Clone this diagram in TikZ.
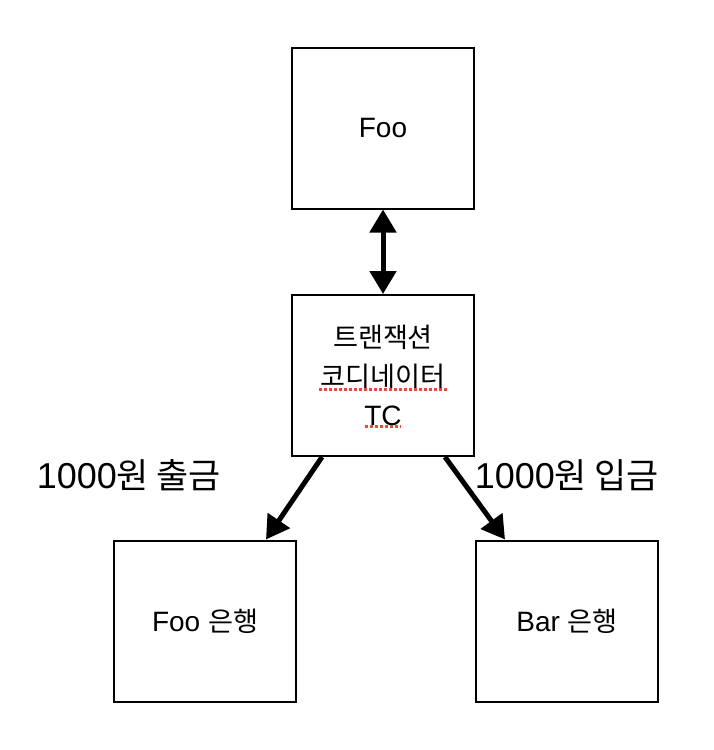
\documentclass[tikz,border=0pt]{standalone}
\usepackage{fontspec}
\setmainfont{Liberation Sans}
\newfontfamily\kr[Scale=0.97]{Noto Sans CJK KR}
\usetikzlibrary{arrows.meta,positioning}

\definecolor{spellred}{HTML}{E5483C}

\begin{document}
\begin{tikzpicture}[x=1pt,y=-1pt]
  \tikzstyle{every path}=[line width=2pt]

  \tikzstyle{sysbox}=[draw,minimum width=182pt,minimum height=161pt,align=center,font=\fontsize{28}{39}\selectfont]
  \tikzstyle{link}=[line width=5pt,-{Triangle[length=23pt,width=26pt]}]
  \tikzstyle{twoway}=[line width=5pt,{Triangle[length=23pt,width=26pt]}-{Triangle[length=23pt,width=26pt]}]
  \tikzstyle{amount}=[inner sep=0pt,font=\fontsize{36}{40}\selectfont]
  \tikzstyle{spellmark}=[spellred,line width=2.5pt,dash pattern=on 2.5pt off 2.5pt]

  \useasboundingbox (0,0) rectangle (714,750);

  \node [sysbox] (foo) at (383,128) {Foo};
  \node [sysbox] (tc) at (383,375.5) {{\kr 트랜잭션}\\{\kr 코디네이터}\\TC};
  \node [sysbox] (fooBank) at (205,621) {Foo {\kr 은행}};
  \node [sysbox] (barBank) at (567,621) {Bar {\kr 은행}};

  % spell-check marks
  \draw [spellmark] ([xshift=-64pt,yshift=-14pt]tc.center) -- ++(128,0);
  \draw [spellmark] ([xshift=-18pt,yshift=-51pt]tc.center) -- ++(36,0);

  \draw [twoway] (foo) -- (tc);
  \draw [link] ([xshift=-61pt]tc.south) -- ([xshift=61pt]fooBank.north);
  \draw [link] ([xshift=62pt]tc.south) -- ([xshift=-62pt]barBank.north);

  \node [amount] (withdraw) at (129,475) {1000{\kr 원 출금}};
  \node [amount] (deposit) at (567,475) {1000{\kr 원 입금}};
\end{tikzpicture}
\end{document}
